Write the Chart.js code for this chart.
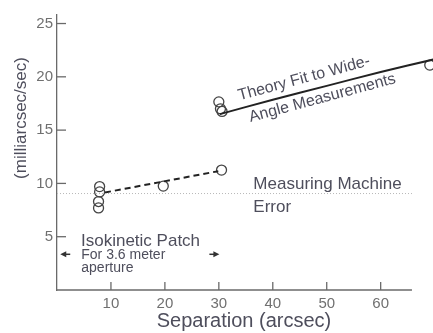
<!DOCTYPE html>
<html>
<head>
<meta charset="utf-8">
<script src="https://cdn.jsdelivr.net/npm/chart.js@4/dist/chart.umd.min.js"></script>
<style>
  body { margin: 0; background: #fff; }
  #wrap { width: 433px; height: 333px; }
</style>
</head>
<body>
<div id="wrap"><canvas id="myChart" width="433" height="333"></canvas></div>
<script>
// measured points
const patchX = [7.9, 7.9, 7.7, 7.7, 19.7, 30.5];
const patchY = [9.7, 9.2, 8.3, 7.7, 9.75, 11.25];
const wideX = [30.0, 30.3, 30.6, 69.1];
const wideY = [17.65, 17.0, 16.75, 21.1];

// fitted lines
const patchFitX = [8.9, 29.9];
const patchFitY = [9.15, 11.15];
const theoryX = [30.2, 40, 50, 60, 70];
const theoryY = [16.5, 17.85, 19.15, 20.45, 21.65];
const machineErrX = [0, 65.8];
const machineErrY = [9.05, 9.05];

const xTicks = [10, 20, 30, 40, 50, 60];
const yTicks = [5, 10, 15, 20, 25];
const xAxisEnd = 65.8;

const FONT = "'Liberation Sans', sans-serif";
const TEXT = '#4e4e5c';
const AXIS = '#6a6a6a';

function pts (xs, ys) {
    return xs.map((v, i) => ({x: v, y: ys[i]}));
}

// text labels, arrows, axis line, inward ticks, axis titles
const notes = {
    id: 'notes',
    afterDraw (chart) {
        const ctx = chart.ctx;
        const x = chart.scales.x, y = chart.scales.y;
        const px = v => x.getPixelForValue(v);
        const py = v => y.getPixelForValue(v);

        ctx.save();
        ctx.strokeStyle = AXIS;
        ctx.lineWidth = 1.3;
        // x axis line stops short of the right edge
        ctx.beginPath();
        ctx.moveTo(x.left, y.bottom);
        ctx.lineTo(px(xAxisEnd), y.bottom);
        ctx.stroke();
        // inward tick marks
        xTicks.forEach(t => {
            ctx.beginPath();
            ctx.moveTo(px(t), y.bottom);
            ctx.lineTo(px(t), y.bottom - 8);
            ctx.stroke();
        });
        yTicks.forEach(t => {
            ctx.beginPath();
            ctx.moveTo(x.left, py(t));
            ctx.lineTo(x.left + 9, py(t));
            ctx.stroke();
        });

        ctx.fillStyle = TEXT;
        ctx.textBaseline = 'alphabetic';
        ctx.textAlign = 'left';

        ctx.font = '17px ' + FONT;
        ctx.fillText('Isokinetic Patch', px(4.45), py(4.17));
        ctx.font = '14px ' + FONT;
        ctx.fillText('For 3.6 meter', px(4.5), py(2.95));
        ctx.fillText('aperture', px(4.5), py(1.73));

        ctx.font = '17px ' + FONT;
        ctx.fillText('Measuring Machine', px(36.4), py(9.45));
        ctx.fillText('Error', px(36.4), py(7.35));

        // rotated caption along theory curve
        ctx.font = '16px ' + FONT;
        ctx.textAlign = 'center';
        [['Theory Fit to Wide-', 46.0, 19.45], ['Angle Measurements', 49.4, 17.6]].forEach(r => {
            ctx.save();
            ctx.translate(px(r[1]), py(r[2]));
            ctx.rotate(-15 * Math.PI / 180);
            ctx.fillText(r[0], 0, 0);
            ctx.restore();
        });

        // arrows
        ctx.fillStyle = '#333';
        ctx.strokeStyle = '#333';
        ctx.lineWidth = 1.5;
        const ay = py(3.35);
        [[0.6, 1], [30.1, -1]].forEach(a => {
            const tip = px(a[0]), d = a[1];
            ctx.beginPath();
            ctx.moveTo(tip + d * 4, ay);
            ctx.lineTo(tip + d * 10, ay);
            ctx.stroke();
            ctx.beginPath();
            ctx.moveTo(tip, ay);
            ctx.lineTo(tip + d * 6, ay - 3);
            ctx.lineTo(tip + d * 6, ay + 3);
            ctx.closePath();
            ctx.fill();
        });

        // axis titles
        ctx.fillStyle = TEXT;
        ctx.textAlign = 'center';
        ctx.textBaseline = 'middle';
        ctx.font = '20px ' + FONT;
        ctx.fillText('Separation (arcsec)', 244, 321.5);
        ctx.font = '17px ' + FONT;
        ctx.save();
        ctx.translate(21, 118);
        ctx.rotate(-Math.PI / 2);
        ctx.fillText('(milliarcsec/sec)', 0, 0);
        ctx.restore();
        ctx.restore();
    }
};

const ctx = document.getElementById('myChart').getContext('2d');
const myChart = new Chart(ctx, {
    type: 'scatter',
    data: {
        datasets: [
            {
                data: pts(machineErrX, machineErrY),
                showLine: true,
                borderColor: '#b8b8b8',
                borderWidth: 1,
                borderDash: [1, 2],
                pointRadius: 0
            },
            {
                data: pts(patchFitX, patchFitY),
                showLine: true,
                borderColor: '#222',
                borderWidth: 2,
                borderDash: [6, 4],
                pointRadius: 0
            },
            {
                data: pts(theoryX, theoryY),
                showLine: true,
                borderColor: '#222',
                borderWidth: 2,
                tension: 0.3,
                pointRadius: 0,
                clip: false
            },
            {
                data: pts(patchX, patchY),
                pointRadius: 5,
                pointBorderWidth: 1.3,
                pointBorderColor: '#444',
                pointBackgroundColor: 'rgba(255,255,255,0)'
            },
            {
                data: pts(wideX, wideY),
                pointRadius: 5,
                pointBorderWidth: 1.3,
                pointBorderColor: '#444',
                pointBackgroundColor: 'rgba(255,255,255,0)',
                clip: false
            }
        ]
    },
    options: {
        responsive: false,
        animation: false,
        layout: { autoPadding: false, padding: { left: 0, right: 0, top: 15, bottom: 0 } },
        plugins: {
            legend: { display: false },
            tooltip: { enabled: false }
        },
        scales: {
            x: {
                type: 'linear',
                min: 0,
                max: 69.7,
                afterBuildTicks: s => { s.ticks = xTicks.map(v => ({value: v})); },
                afterFit: s => { s.height = 43; },
                grid: { display: false, drawTicks: false },
                border: { display: false },
                ticks: { color: '#707070', font: { family: FONT, size: 15 }, padding: 5 }
            },
            y: {
                min: 0,
                max: 25.8,
                afterBuildTicks: s => { s.ticks = yTicks.map(v => ({value: v})); },
                afterFit: s => { s.width = 57; },
                grid: { display: false, drawTicks: false },
                border: { color: AXIS, width: 1.3 },
                ticks: { color: '#707070', font: { family: FONT, size: 15 }, padding: 4 }
            }
        }
    },
    plugins: [notes]
});
</script>
</body>
</html>
